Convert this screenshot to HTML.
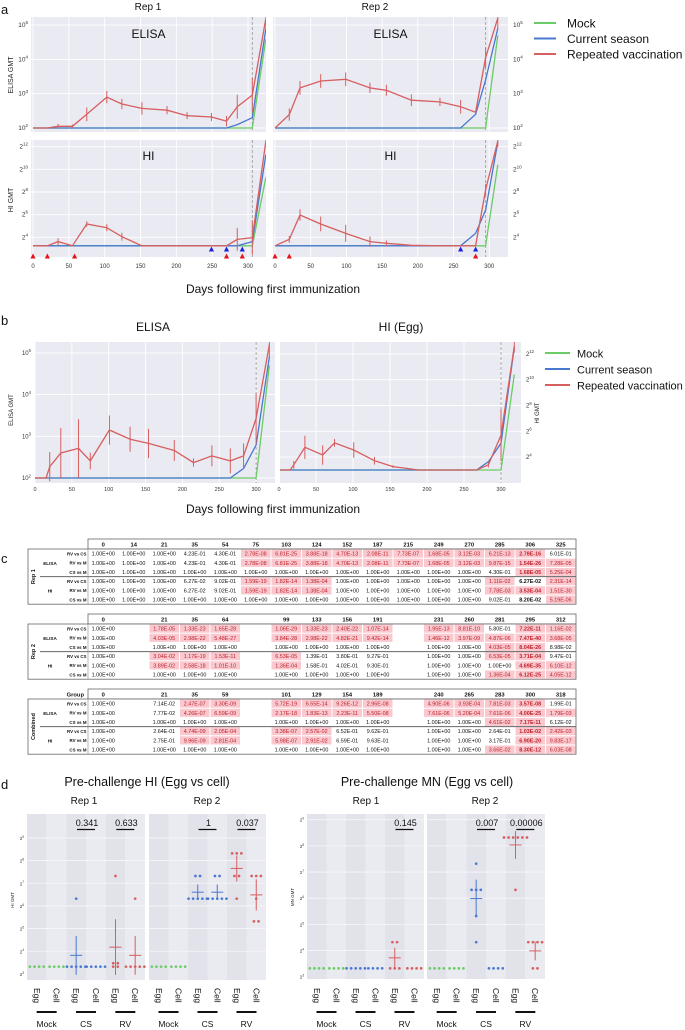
<!DOCTYPE html>
<html><head><meta charset="utf-8"><style>
html,body{margin:0;padding:0;background:#fff;}
svg{display:block;font-family:"Liberation Sans",sans-serif;}
</style></head><body>
<svg id="fig" width="685" height="1030" viewBox="0 0 685 1030" xmlns="http://www.w3.org/2000/svg"><defs id="defs"></defs></svg>
<script>
// ---------- DATA ----------
const aR1Days=[0,20,35,55,75,103,124,152,187,215,249,270,285,306,325];
const aR1ElisaRV=[2,2,2.05,2.05,2.4,2.9,2.7,2.57,2.52,2.36,2.32,2.2,2.62,2.96,5.2];
const aR1ElisaRVErr=[0,0,0.07,0.05,0.2,0.18,0.15,0.18,0.12,0.1,0.12,0.15,0.35,0.5,0.3];
const aR1ElisaCS=[2,2,2,2,2,2,2,2,2,2,2,2,2.1,2.3,4.9];
const aR1ElisaM=[2,2,2,2,2,2,2,2,2,2,2,2,2,2,4.6];
const aR1HiRV=[3.25,3.25,3.62,3.25,5.18,4.85,4.06,3.25,3.25,3.25,3.25,3.25,3.82,3.97,12.5];
const aR1HiRVErr=[0,0,0.3,0,0.25,0.3,0.35,0,0,0,0,0,1.0,1.5,0.5];
const aR1HiCS=[3.25,3.25,3.25,3.25,3.25,3.25,3.25,3.25,3.25,3.25,3.25,3.25,3.25,3.62,11.3];
const aR1HiM=[3.25,3.25,3.25,3.25,3.25,3.25,3.25,3.25,3.25,3.25,3.25,3.25,3.25,3.25,9.3];
const aR2Days=[0,20,35,64,99,133,156,191,231,260,281,295,312];
const aR2ElisaRV=[2,2.39,3.17,3.37,3.42,3.17,3.1,2.81,2.76,2.62,2.46,4.05,5.2];
const aR2ElisaRVErr=[0,0.18,0.2,0.2,0.2,0.15,0.16,0.17,0.12,0.2,0,0.3,0.3];
const aR2ElisaCS=[2,2,2,2,2,2,2,2,2,2,2.4,3.4,4.9];
const aR2ElisaM=[2,2,2,2,2,2,2,2,2,2,2,2,4.7];
const aR2HiRV=[3.25,3.82,5.97,5.18,4.35,3.62,3.47,3.3,3.25,3.25,3.25,8.2,12.5];
const aR2HiRVErr=[0,0.3,0.5,0.65,0.75,0.45,0.25,0,0,0,0,0.5,0.5];
const aR2HiCS=[3.25,3.25,3.25,3.25,3.25,3.25,3.25,3.25,3.25,3.25,4.35,6.4,12.4];
const aR2HiM=[3.25,3.25,3.25,3.25,3.25,3.25,3.25,3.25,3.25,3.25,3.25,3.25,10.4];
const aR1RedTri=[0,20,58,270,292];
const aR1BlueTri=[249,270,292];
const aR2RedTri=[0,20,281];
const aR2BlueTri=[260,281];

const bElisaDays=[0,15,20,35,59,75,101,129,154,189,215,240,265,283,300,318];
const bElisaRV=[2,2,2.27,2.6,2.71,2.41,3.15,2.93,2.83,2.66,2.37,2.53,2.41,2.53,3.43,5.2];
const bElisaRVErr=[0,0,0.35,0.6,0.7,0.2,0.35,0.3,0.35,0.25,0.1,0.25,0.3,0.3,0.6,0.3];
const bElisaCS=[2,2,2,2,2,2,2,2,2,2,2,2,2,2.23,2.79,4.91];
const bElisaM=[2,2,2,2,2,2,2,2,2,2,2,2,2,2,2,4.7];
const bHiDays=[0,15,20,35,59,75,101,129,154,189,231,267,283,300,318];
const bHiRV=[3,3,3.4,4.76,4.16,5.1,4.55,3.72,3.26,3,3,3,3.4,5.7,12.6];
const bHiRVErr=[0,0,0.3,0.9,0.75,0.3,0.6,0.3,0.1,0,0,0,0.2,2.0,0.5];
const bHiCS=[3,3,3,3,3,3,3,3,3,3,3,3,3.64,5.07,12.5];
const bHiM=[3,3,3,3,3,3,3,3,3,3,3,3,3,3,10.4];

const t1Head=['0','14','21','35','54','75','103','124','152','187','215','249','270','285','306','325'];
const t1Rows=[
['1.00E+00','1.00E+00','1.00E+00','4.23E-01','4.30E-01','*2.78E-08','*6.81E-25','*3.88E-18','*4.70E-13','*2.08E-11','*7.73E-07','*1.68E-05','*3.12E-03','*6.21E-13','*!2.78E-16','6.01E-01'],
['1.00E+00','1.00E+00','1.00E+00','4.23E-01','4.30E-01','*2.78E-08','*6.81E-25','*3.88E-18','*4.70E-13','*2.08E-11','*7.73E-07','*1.68E-05','*3.12E-03','*9.87E-15','*!1.54E-26','*7.28E-05'],
['1.00E+00','1.00E+00','1.00E+00','1.00E+00','1.00E+00','1.00E+00','1.00E+00','1.00E+00','1.00E+00','1.00E+00','1.00E+00','1.00E+00','1.00E+00','4.30E-01','*!1.68E-05','*5.25E-04'],
['1.00E+00','1.00E+00','1.00E+00','6.27E-02','9.02E-01','*1.59E-19','*1.82E-14','*1.38E-04','1.00E+00','1.00E+00','1.00E+00','1.00E+00','1.00E+00','*1.11E-02','!6.27E-02','*2.31E-14'],
['1.00E+00','1.00E+00','1.00E+00','6.27E-02','9.02E-01','*1.59E-19','*1.82E-14','*1.38E-04','1.00E+00','1.00E+00','1.00E+00','1.00E+00','1.00E+00','*7.78E-03','*!3.53E-04','*1.51E-30'],
['1.00E+00','1.00E+00','1.00E+00','1.00E+00','1.00E+00','1.00E+00','1.00E+00','1.00E+00','1.00E+00','1.00E+00','1.00E+00','1.00E+00','1.00E+00','9.02E-01','!8.20E-02','*5.19E-06']];
const t2Head=['0','','21','35','64','','99','133','156','191','','231','260','281','295','312'];
const t2Rows=[
['1.00E+00','','*1.78E-05','*1.33E-23','*1.65E-28','','*1.06E-29','*1.33E-23','*2.40E-22','*1.07E-14','','*1.95E-13','*8.81E-10','5.80E-01','*!7.22E-11','*1.16E-02'],
['1.00E+00','','*4.03E-05','*2.98E-22','*5.48E-27','','*3.84E-28','*2.98E-22','*4.82E-21','*9.42E-14','','*1.46E-12','*3.97E-09','*4.87E-06','*!7.47E-40','*3.68E-05'],
['1.00E+00','','1.00E+00','1.00E+00','1.00E+00','','1.00E+00','1.00E+00','1.00E+00','1.00E+00','','1.00E+00','1.00E+00','*4.03E-05','*!8.04E-26','8.98E-02'],
['1.00E+00','','*3.04E-02','*1.17E-19','*1.53E-11','','*6.53E-05','1.39E-01','3.80E-01','9.27E-01','','1.00E+00','1.00E+00','*6.53E-05','*!3.71E-04','9.47E-01'],
['1.00E+00','','*3.89E-02','*2.58E-18','*1.01E-10','','*1.36E-04','1.58E-01','4.02E-01','9.30E-01','','1.00E+00','1.00E+00','1.00E+00','*!4.69E-35','*6.10E-12'],
['1.00E+00','','1.00E+00','1.00E+00','1.00E+00','','1.00E+00','1.00E+00','1.00E+00','1.00E+00','','1.00E+00','1.00E+00','*1.36E-04','*!6.12E-25','*4.05E-12']];
const t3Head=['0','','21','35','59','','101','129','154','189','','240','265','283','300','318'];
const t3Rows=[
['1.00E+00','','7.14E-02','*2.47E-07','*3.30E-09','','*5.72E-19','*6.55E-14','*9.26E-12','*2.96E-08','','*4.90E-06','*3.93E-04','*7.81E-03','*!3.57E-08','1.99E-01'],
['1.00E+00','','7.77E-02','*4.26E-07','*6.59E-09','','*2.17E-18','*1.83E-13','*2.23E-11','*5.50E-08','','*7.61E-06','*5.20E-04','*7.61E-06','*!4.00E-25','*1.79E-03'],
['1.00E+00','','1.00E+00','1.00E+00','1.00E+00','','1.00E+00','1.00E+00','1.00E+00','1.00E+00','','1.00E+00','1.00E+00','*4.61E-02','*!7.17E-11','6.12E-02'],
['1.00E+00','','2.64E-01','*4.74E-09','*2.05E-04','','*3.38E-07','*2.57E-02','6.52E-01','9.62E-01','','1.00E+00','1.00E+00','2.64E-01','*!1.03E-02','*2.42E-03'],
['1.00E+00','','2.75E-01','*9.96E-09','*2.81E-04','','*5.98E-07','*2.91E-02','6.59E-01','9.63E-01','','1.00E+00','1.00E+00','3.17E-01','*!6.90E-20','*9.83E-17'],
['1.00E+00','','1.00E+00','1.00E+00','1.00E+00','','1.00E+00','1.00E+00','1.00E+00','1.00E+00','','1.00E+00','1.00E+00','*3.66E-02','*!8.30E-12','*6.03E-08']];
const rowLabels=['RV vs CS','RV vs M','CS vs M','RV vs CS','RV vs M','CS vs M'];

const dHiRep1=[[3.32,3.32,3.32,3.32],[3.32,3.32,3.32,3.32],[3.32,3.32,3.32,3.32,3.32,6.32],[3.32,3.32,3.32,3.32,3.32],[3.47,3.32,3.32,7.32,3.47],[3.32,3.32,3.32,3.32,3.32,6.32]];
const dHiRep2=[[3.32,3.32,3.32,3.32],[3.32,3.32,3.32,3.32],[7.32,7.32,6.32,6.32,6.32,6.32,6.32],[7.32,7.32,6.32,6.32,6.32,6.32,6.32],[8.32,8.32,8.32,7.32,7.32,6.32],[7.32,7.32,7.32,6.32,5.32,5.32]];
const dMnRep1=[[3.32,3.32,3.32,3.32],[3.32,3.32,3.32,3.32],[3.32,3.32,3.32,3.32,3.32],[3.32,3.32,3.32,3.32],[4.32,4.32,3.32,3.32,3.32],[3.32,3.32,3.32,3.32]];
const dMnRep2=[[3.32,3.32,3.32,3.32],[3.32,3.32,3.32,3.32],[7.32,6.32,6.32,6.32,5.32,4.32],[3.32,3.32,3.32,3.32],[8.32,8.32,8.32,8.32,8.32,8.32,6.32],[4.32,4.32,4.32,4.32,3.32,3.32]];
const dHiRep1P=['','0.341','0.633'];
const dHiRep2P=['','1','0.037'];
const dMnRep1P=['','','0.145'];
const dMnRep2P=['','0.007','0.00006'];
const dGroups=['Mock','CS','RV'];
const dCols=['Egg','Cell'];

// ---------- HELPERS ----------
const NS='http://www.w3.org/2000/svg';
const svg=document.getElementById('fig');
const defs=document.getElementById('defs');
const GREEN='#6acc64',BLUE='#4878d0',RED='#d65f5f';
function ln(x1,y1,x2,y2,st,w,name,dash,clip){
  const e=document.createElementNS(NS,'line');
  e.setAttribute('x1',x1);e.setAttribute('y1',y1);e.setAttribute('x2',x2);e.setAttribute('y2',y2);
  e.setAttribute('stroke',st);e.setAttribute('stroke-width',w);
  if(dash)e.setAttribute('stroke-dasharray',dash);
  if(clip)e.setAttribute('clip-path','url(#'+clip+')');
  
  
  svg.appendChild(e);return e;}
function rc(x,y,w,h,fill,name,stroke){
  const e=document.createElementNS(NS,'rect');
  e.setAttribute('x',x);e.setAttribute('y',y);e.setAttribute('width',w);e.setAttribute('height',h);
  e.setAttribute('fill',fill);
  if(stroke){e.setAttribute('stroke',stroke);e.setAttribute('stroke-width',0.8);}
  
  
  svg.appendChild(e);return e;}
function tx(x,y,s,size,name,anchor,fill,weight,rot){
  const e=document.createElementNS(NS,'text');
  e.setAttribute('x',x);e.setAttribute('y',y);e.setAttribute('font-size',size);
  e.setAttribute('text-anchor',anchor||'start');e.setAttribute('fill',fill||'#111');
  if(weight)e.setAttribute('font-weight',weight);
  if(rot!==undefined)e.setAttribute('transform','rotate('+rot+' '+x+' '+y+')');
  e.textContent=s;
  
  
  svg.appendChild(e);return e;}
function sup(x,y,base,exp,size,name,anchor){
  const e=document.createElementNS(NS,'text');
  e.setAttribute('x',x);e.setAttribute('y',y);e.setAttribute('font-size',size);
  e.setAttribute('text-anchor',anchor||'end');e.setAttribute('fill','#333');
  const a=document.createElementNS(NS,'tspan');a.textContent=base;e.appendChild(a);
  const b=document.createElementNS(NS,'tspan');b.textContent=exp;b.setAttribute('dy',-size*0.45);b.setAttribute('font-size',size*0.7);e.appendChild(b);
  
  
  svg.appendChild(e);return e;}
function clipRect(id,x,y,w,h){
  const c=document.createElementNS(NS,'clipPath');c.setAttribute('id',id);
  const r=document.createElementNS(NS,'rect');r.setAttribute('x',x);r.setAttribute('y',y);r.setAttribute('width',w);r.setAttribute('height',h);
  c.appendChild(r);defs.appendChild(c);}
function series(days,vals,xf,yf,color,name,clip){
  const p=document.createElementNS(NS,'polyline');
  p.setAttribute('points',days.map((d,i)=>xf(d).toFixed(1)+','+yf(vals[i]).toFixed(1)).join(' '));
  p.setAttribute('fill','none');p.setAttribute('stroke',color);p.setAttribute('stroke-width',1.3);
  p.setAttribute('clip-path','url(#'+clip+')');
  
  
  svg.appendChild(p);}
function errs(days,vals,er,xf,yf,color,name,clip){
  days.forEach((d,i)=>{ if(er[i]>0) ln(xf(d),yf(vals[i]-er[i]),xf(d),yf(vals[i]+er[i]),color,1,name,null,clip); });}
function tri(x,y,color,name){
  const p=document.createElementNS(NS,'polygon');
  p.setAttribute('points',(x-2.6)+','+(y+2.5)+' '+(x+2.6)+','+(y+2.5)+' '+x+','+(y-2.5));
  p.setAttribute('fill',color);
  
  
  svg.appendChild(p);}
function dot(x,y,color,name){
  const c=document.createElementNS(NS,'circle');
  c.setAttribute('cx',x);c.setAttribute('cy',y);c.setAttribute('r',1.35);c.setAttribute('fill',color);
  
  
  svg.appendChild(c);}

// ---------- PANEL A ----------
tx(1,14,'a',13,'panel-a-label');
tx(148,10,'Rep 1',10,'rep1-title','middle');
tx(375,10,'Rep 2',10,'rep2-title','middle');
const xA1=d=>33+d*0.7167, xA2=d=>275+d*0.714;
const yAE=v=>128-(v-2)*34.3, yAH=v=>(712-(v-4)*34)/3;
const aPlots=[
 {x0:31,x1:266,y0:17,y1:132,xf:xA1,yf:yAE,kind:'elisa',rep:1,days:aR1Days,rv:aR1ElisaRV,er:aR1ElisaRVErr,cs:aR1ElisaCS,m:aR1ElisaM,dash:306},
 {x0:273,x1:508,y0:17,y1:132,xf:xA2,yf:yAE,kind:'elisa',rep:2,days:aR2Days,rv:aR2ElisaRV,er:aR2ElisaRVErr,cs:aR2ElisaCS,m:aR2ElisaM,dash:295},
 {x0:31,x1:266,y0:140,y1:257,xf:xA1,yf:yAH,kind:'hi',rep:1,days:aR1Days,rv:aR1HiRV,er:aR1HiRVErr,cs:aR1HiCS,m:aR1HiM,dash:306},
 {x0:273,x1:508,y0:140,y1:257,xf:xA2,yf:yAH,kind:'hi',rep:2,days:aR2Days,rv:aR2HiRV,er:aR2HiRVErr,cs:aR2HiCS,m:aR2HiM,dash:295}];
aPlots.forEach((P,k)=>{
  const id='clipA'+k;clipRect(id,P.x0,P.y0,P.x1-P.x0,P.y1-P.y0);
  rc(P.x0,P.y0,P.x1-P.x0,P.y1-P.y0,'#eaeaf2','plot-background');
  for(let d=0;d<=300;d+=50) ln(P.xf(d),P.y0,P.xf(d),P.y1,'#fff',0.9,'grid-line-x');
  const ticks=P.kind==='elisa'?[2,3,4,5]:[4,6,8,10,12];
  ticks.forEach(v=>{
    ln(P.x0,P.yf(v),P.x1,P.yf(v),'#fff',0.9,'grid-line-y');
    const base=P.kind==='elisa'?'10':'2';
    if(P.rep===1) sup(28,P.yf(v)+2,base,String(v),6.5,'y-tick-label','end');
    else sup(513,P.yf(v)+2,base,String(v),6.5,'y-tick-label-right','start');
  });
  ln(P.xf(P.dash),P.y0,P.xf(P.dash),P.y1,'#999',0.8,'challenge-line','3,2');
  series(P.days,P.m,P.xf,P.yf,GREEN,'mock-line',id);
  series(P.days,P.cs,P.xf,P.yf,BLUE,'current-season-line',id);
  series(P.days,P.rv,P.xf,P.yf,RED,'repeated-vaccination-line',id);
  errs(P.days,P.rv,P.er,P.xf,P.yf,RED,'rv-error-bar',id);
  tx((P.x0+P.x1)/2,P.kind==='elisa'?38:160,P.kind==='elisa'?'ELISA':'HI',12,'panel-title','middle');
  if(P.kind==='hi'){
    for(let d=0;d<=300;d+=50) tx(P.xf(d),268,String(d),6,'x-tick-label','middle','#333');
  }
});
tx(13,75,'ELISA GMT',7,'elisa-y-axis-title','middle','#222',null,-90);
tx(13,200,'HI GMT',7,'hi-y-axis-title','middle','#222',null,-90);
aR1RedTri.forEach(d=>tri(xA1(d),256,'#e8121a','vaccination-marker-rv'));
aR1BlueTri.forEach(d=>tri(xA1(d),249,'#1a22e0','vaccination-marker-cs'));
aR2RedTri.forEach(d=>tri(xA2(d),256,'#e8121a','vaccination-marker-rv'));
aR2BlueTri.forEach(d=>tri(xA2(d),249,'#1a22e0','vaccination-marker-cs'));
tx(273,293,'Days following first immunization',12,'x-axis-title-a','middle');
const legendItems=['Mock','Current season','Repeated vaccination'];
const legendColors=[GREEN,BLUE,RED];
legendItems.forEach((s,i)=>{
  ln(534,23+i*15.5,556,23+i*15.5,legendColors[i],2,'legend-swatch');
  tx(567,27.5+i*15.5,s,12,'legend-entry');
});

// ---------- PANEL B ----------
tx(1,325,'b',13,'panel-b-label');
tx(153,331,'ELISA',12,'panel-b-elisa-title','middle');
tx(401,331,'HI (Egg)',12,'panel-b-hi-title','middle');
const xB1=d=>35+d*0.737, xB2=d=>279+d*0.74;
const yBE=v=>478-(v-2)*41.7, yBH=v=>470-(v-3)*12.9;
const bPlots=[
 {x0:35,x1:275,y0:342,y1:483,xf:xB1,yf:yBE,kind:'elisa',days:bElisaDays,rv:bElisaRV,er:bElisaRVErr,cs:bElisaCS,m:bElisaM},
 {x0:280,x1:521,y0:342,y1:483,xf:xB2,yf:yBH,kind:'hi',days:bHiDays,rv:bHiRV,er:bHiRVErr,cs:bHiCS,m:bHiM}];
bPlots.forEach((P,k)=>{
  const id='clipB'+k;clipRect(id,P.x0,P.y0,P.x1-P.x0,P.y1-P.y0);
  rc(P.x0,P.y0,P.x1-P.x0,P.y1-P.y0,'#eaeaf2','plot-background');
  for(let d=0;d<=300;d+=50) ln(P.xf(d),P.y0,P.xf(d),P.y1,'#fff',0.9,'grid-line-x');
  const ticks=P.kind==='elisa'?[2,3,4,5]:[4,6,8,10,12];
  ticks.forEach(v=>{
    ln(P.x0,P.yf(v),P.x1,P.yf(v),'#fff',0.9,'grid-line-y');
    if(P.kind==='elisa') sup(31,P.yf(v)+2,'10',String(v),6,'y-tick-label','end');
    else sup(526,P.yf(v)+2,'2',String(v),6,'y-tick-label-right','start');
  });
  ln(P.xf(300),P.y0,P.xf(300),P.y1,'#999',0.8,'challenge-line','3,2');
  series(P.days,P.m,P.xf,P.yf,GREEN,'mock-line',id);
  series(P.days,P.cs,P.xf,P.yf,BLUE,'current-season-line',id);
  series(P.days,P.rv,P.xf,P.yf,RED,'repeated-vaccination-line',id);
  errs(P.days,P.rv,P.er,P.xf,P.yf,RED,'rv-error-bar',id);
  for(let d=0;d<=300;d+=50) tx(P.xf(d),491,String(d),5.5,'x-tick-label','middle','#333');
});
tx(13,410,'ELISA GMT',6,'elisa-y-axis-title-b','middle','#222',null,-90);
tx(539,413,'HI GMT',6,'hi-y-axis-title-b','middle','#222',null,-90);
tx(273,513,'Days following first immunization',12,'x-axis-title-b','middle');
legendItems.forEach((s,i)=>{
  ln(545,353+i*16,570,353+i*16,legendColors[i],2,'legend-swatch');
  tx(577,357.5+i*16,s,11,'legend-entry');
});

// ---------- PANEL C ----------
tx(1,563,'c',13,'panel-c-label');
function table(top,head,rows,groupLabel,firstHead){
  const L=28,C=88,R=576,cw=(R-C)/16,hh=10,rh=9.2;
  rc(C,top,R-C,hh,'#fff','table-header-row','#666');
  if(firstHead) tx(84,top+7.5,firstHead,5.8,'table-group-header','end','#111','bold');
  head.forEach((h,i)=>{ if(h) tx(C+cw*(i+0.5),top+7.5,h,5.8,'table-column-header','middle','#111','bold'); });
  const y0=top+hh;
  rc(L,y0,R-L,rh*6,'#fff','table-body','#666');
  rows.forEach((r,ri)=>{
    const y=y0+ri*rh;
    tx(86.5,y+6.4,rowLabels[ri],4.4,'table-row-label','end','#111','bold');
    r.forEach((v,ci)=>{
      if(!v)return;
      let s=v,pink=false,bold=false;
      if(s[0]==='*'){pink=true;s=s.slice(1);} if(s[0]==='!'){bold=true;s=s.slice(1);}
      const x=C+cw*ci;
      if(pink) rc(x+0.5,y+0.5,cw-1,rh-1,'#f9c9cf','highlighted-cell');
      tx(x+cw/2,y+6.6,s,5.4,'table-cell','middle',pink?'#c0202a':'#111',bold?'bold':null);
    });
  });
  ln(40,y0+rh*3,R,y0+rh*3,'#666',1,'table-assay-separator');
  ln(C,y0,C,y0+rh*6,'#888',0.6,'table-column-divider');
  tx(50,y0+rh*1.5+2,'ELISA',4.6,'assay-label-elisa','middle','#111','bold');
  tx(50,y0+rh*4.5+2,'HI',4.6,'assay-label-hi','middle','#111','bold');
  tx(35,y0+rh*3,groupLabel,5.5,'table-group-label','middle','#111','bold',-90);
}
table(539,t1Head,t1Rows,'Rep 1','');
table(614,t2Head,t2Rows,'Rep 2','');
table(689,t3Head,t3Rows,'Combined','Group');

// ---------- PANEL D ----------
tx(1,789,'d',13,'panel-d-label');
tx(147,786,'Pre-challenge HI (Egg vs cell)',12.5,'hi-prechallenge-title','middle');
tx(427,786,'Pre-challenge MN (Egg vs cell)',12.5,'mn-prechallenge-title','middle');
tx(84,804,'Rep 1',10,'hi-rep1-title','middle');
tx(207,804,'Rep 2',10,'hi-rep2-title','middle');
tx(366,804,'Rep 1',10,'mn-rep1-title','middle');
tx(485,804,'Rep 2',10,'mn-rep2-title','middle');
const yDH=v=>700+(800-(v-3.32)*68)/3;
const yDM=v=>700+(805-(v-3.32)*78.5)/3;
const dPanels=[
 {x0:27,x1:145,yf:yDH,data:dHiRep1,p:dHiRep1P,y1:980},
 {x0:149,x1:266,yf:yDH,data:dHiRep2,p:dHiRep2P,y1:980},
 {x0:307,x1:424,yf:yDM,data:dMnRep1,p:dMnRep1P,y1:979},
 {x0:427,x1:545,yf:yDM,data:dMnRep2,p:dMnRep2P,y1:979}];
const colColors=[GREEN,GREEN,BLUE,BLUE,RED,RED];
dPanels.forEach((P,k)=>{
  const cw=(P.x1-P.x0)/6, y0=814;
  for(let c=0;c<6;c++) rc(P.x0+c*cw,y0,cw,P.y1-y0,c%2===0?'#e2e2ea':'#eaeaf1','column-background');
  for(let v=4;v<=9;v++){ const y=P.yf(v); if(y>y0&&y<P.y1) ln(P.x0,y,P.x1,y,'#f6f6fa',0.8,'grid-line-y'); }
  P.data.forEach((vals,c)=>{
    const cx=P.x0+cw*(c+0.5);
    const counts={};
    vals.forEach(v=>{counts[v]=(counts[v]||0)+1;});
    Object.keys(counts).forEach(key=>{
      const n=counts[key];
      for(let j=0;j<n;j++) dot(cx+(j-(n-1)/2)*4.6,P.yf(+key),colColors[c],'data-point');
    });
    if(c>=2 && new Set(vals).size>1){
      const m=vals.reduce((a,b)=>a+b,0)/vals.length;
      const sd=Math.sqrt(vals.reduce((a,b)=>a+(b-m)*(b-m),0)/(vals.length-1))*0.7;
      ln(cx-6,P.yf(m),cx+6,P.yf(m),colColors[c],1,'mean-marker');
      ln(cx,P.yf(m-sd),cx,P.yf(m+sd),colColors[c],1,'error-bar');
    }
    tx(cx-3,988,dCols[c%2],8.5,'x-category-label','start','#111',null,90);
  });
  P.p.forEach((s,g)=>{
    if(!s)return;
    const gx=P.x0+cw*(2*g+1);
    ln(gx-9,829.5,gx+9,829.5,'#111',1.3,'p-value-bracket');
    tx(gx+1,826,s,9,'p-value','middle');
  });
  dGroups.forEach((g,gi)=>{
    const gx=P.x0+cw*(2*gi+1);
    ln(gx-10,1012,gx+10,1012,'#111',2,'group-underline');
    tx(gx,1027,g,8.5,'group-label','middle');
  });
});
for(let v=3;v<=9;v++){
  const y=yDH(v); if(y<986&&y>810) sup(24,y+2,'2',String(v),4.5,'hi-y-tick-label','end');
  const y2=yDM(v); if(y2<986&&y2>810) sup(304,y2+2,'2',String(v),4.5,'mn-y-tick-label','end');
}
tx(14,900,'HI GMT',4.5,'hi-gmt-axis-title','middle','#222',null,-90);
tx(294,897,'MN GMT',4.5,'mn-gmt-axis-title','middle','#222',null,-90);
</script>
</body></html>
